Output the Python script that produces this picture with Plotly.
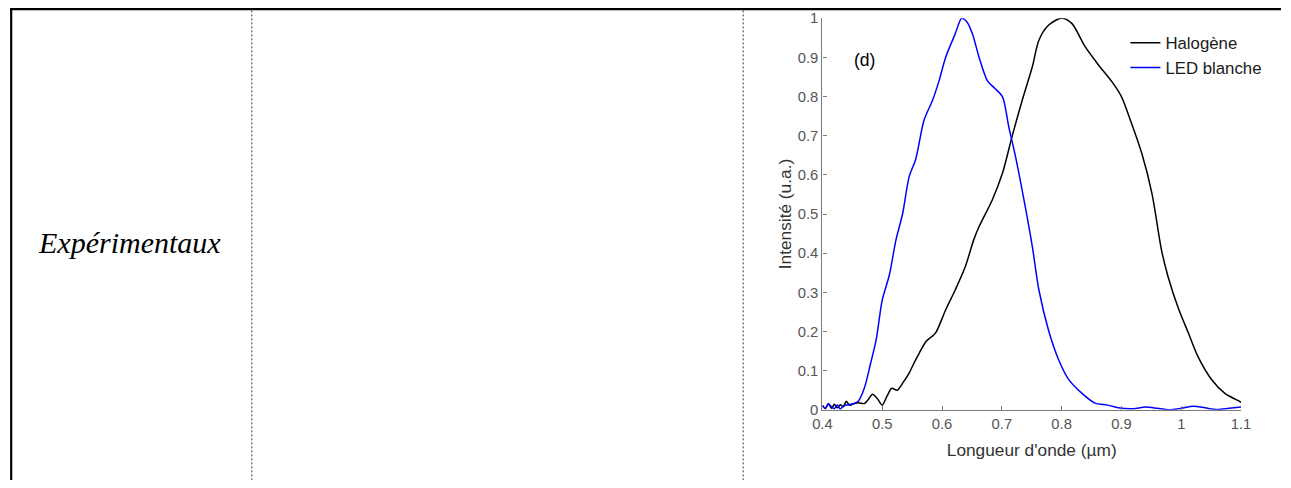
import plotly.graph_objects as go

# Halogen lamp spectrum (normalised intensity vs wavelength in µm)
halogen_wl = [0.400, 0.405, 0.410, 0.415, 0.420, 0.425, 0.430, 0.435, 0.440, 0.445,
              0.450, 0.460, 0.470, 0.476, 0.484, 0.492, 0.500, 0.508, 0.516, 0.525,
              0.535, 0.545, 0.555, 0.562, 0.573, 0.589, 0.606, 0.622, 0.639, 0.653,
              0.662, 0.684, 0.701, 0.717, 0.734, 0.751, 0.762, 0.778, 0.800, 0.817,
              0.839, 0.862, 0.884, 0.900, 0.917, 0.934, 0.951, 0.967, 0.978, 0.995,
              1.012, 1.028, 1.051, 1.073, 1.098, 1.100]
halogen_int = [0.012, 0.003, 0.016, 0.004, 0.014, 0.005, 0.013, 0.008, 0.022, 0.012,
               0.014, 0.018, 0.016, 0.025, 0.040, 0.028, 0.012, 0.035, 0.055, 0.050,
               0.070, 0.094, 0.125, 0.145, 0.174, 0.196, 0.255, 0.306, 0.366, 0.434,
               0.468, 0.536, 0.604, 0.697, 0.790, 0.876, 0.944, 0.982, 1.000, 0.987,
               0.928, 0.880, 0.838, 0.800, 0.731, 0.655, 0.553, 0.408, 0.340, 0.260,
               0.196, 0.136, 0.077, 0.042, 0.021, 0.019]

# White LED spectrum
led_wl = [0.400, 0.405, 0.410, 0.415, 0.420, 0.425, 0.430, 0.435, 0.440, 0.450,
          0.460, 0.470, 0.480, 0.490, 0.500, 0.512, 0.523, 0.534, 0.545, 0.556,
          0.570, 0.584, 0.595, 0.606, 0.622, 0.633, 0.642, 0.651, 0.662, 0.676,
          0.689, 0.701, 0.712, 0.723, 0.739, 0.751, 0.762, 0.778, 0.795, 0.812,
          0.834, 0.856, 0.877, 0.900, 0.920, 0.940, 0.960, 0.980, 1.000, 1.020,
          1.040, 1.060, 1.080, 1.100]
led_int = [0.010, 0.004, 0.015, 0.008, 0.003, 0.012, 0.002, 0.010, 0.012, 0.015,
           0.022, 0.055, 0.115, 0.180, 0.280, 0.345, 0.434, 0.500, 0.595, 0.640,
           0.740, 0.790, 0.840, 0.900, 0.960, 1.000, 0.990, 0.960, 0.900, 0.840,
           0.820, 0.800, 0.720, 0.646, 0.520, 0.417, 0.306, 0.204, 0.128, 0.077,
           0.042, 0.017, 0.012, 0.004, 0.003, 0.007, 0.004, 0.000, 0.004, 0.009,
           0.005, 0.001, 0.004, 0.007]

x_ticks = [0.4, 0.5, 0.6, 0.7, 0.8, 0.9, 1.0, 1.1]
x_tick_labels = ["0.4", "0.5", "0.6", "0.7", "0.8", "0.9", "1", "1.1"]
y_ticks = [0.0, 0.1, 0.2, 0.3, 0.4, 0.5, 0.6, 0.7, 0.8, 0.9, 1.0]
y_tick_labels = ["0", "0.1", "0.2", "0.3", "0.4", "0.5", "0.6", "0.7", "0.8", "0.9", "1"]

W, H = 1291, 488
BODY = 8                       # default html body margin around the figure
SX = (W + 2 * BODY) / W        # page width relative to the visible width
SY = (H + 2 * BODY) / H
AX = "#7a7a7a"
SANS = "Liberation Sans, Arial, sans-serif"


def px(v):
    """visible x pixel -> paper fraction of the figure"""
    return (v * SX - BODY) / W


def py(v):
    """visible y pixel (from top) -> paper fraction of the figure"""
    return 1 - (v * SY - BODY) / H


fig = go.Figure()
fig.add_trace(go.Scatter(x=halogen_wl, y=halogen_int, mode="lines", name="Halogène",
                         line=dict(color="#000000", width=1.5, shape="spline", smoothing=0.8)))
fig.add_trace(go.Scatter(x=led_wl, y=led_int, mode="lines", name="LED blanche",
                         line=dict(color="#0000ff", width=1.5, shape="spline", smoothing=0.8)))

# table frame: thick outer edges, dotted cell separators
shapes = [
    dict(type="line", xref="paper", yref="paper", x0=0, x1=1.0, y0=1 - 1.2 / H, y1=1 - 1.2 / H,
         line=dict(color="black", width=2.2)),
    dict(type="line", xref="paper", yref="paper", x0=1.2 / W, x1=1.2 / W, y0=1, y1=0,
         line=dict(color="black", width=2.2)),
    dict(type="line", xref="paper", yref="paper", x0=px(250.5), x1=px(250.5), y0=1 - 2.5 / H, y1=0,
         line=dict(color="#333333", width=1, dash="2px,2px")),
    dict(type="line", xref="paper", yref="paper", x0=px(743.5), x1=px(743.5), y0=1 - 2.5 / H, y1=0,
         line=dict(color="#333333", width=1, dash="2px,2px")),
]

annotations = [
    dict(text="<i>Expérimentaux</i>", xref="paper", yref="paper", x=px(128), y=py(242),
         xanchor="center", yanchor="middle", showarrow=False,
         font=dict(family="Liberation Serif, Times New Roman, serif", size=30, color="black")),
    dict(text="(d)", xref="paper", yref="paper", x=px(865), y=py(60),
         xanchor="center", yanchor="middle", showarrow=False,
         font=dict(family=SANS, size=17.5, color="black")),
]

fig.update_layout(
    width=W, height=H,
    autosize=False,
    margin=dict(l=0, r=0, t=0, b=0),
    paper_bgcolor="white", plot_bgcolor="white",
    shapes=shapes, annotations=annotations,
    showlegend=True,
    legend=dict(x=px(1127), y=py(25), xanchor="left", yanchor="top",
                bgcolor="rgba(0,0,0,0)", font=dict(family=SANS, size=16.8, color="#1a1a1a"),
                tracegroupgap=0),
    xaxis=dict(domain=[px(823), px(1243)], range=[0.4, 1.1],
               tickvals=x_ticks, ticktext=x_tick_labels,
               showline=True, linecolor=AX, linewidth=1.3, mirror=False,
               ticks="inside", ticklen=4, tickcolor=AX, tickwidth=1.3,
               showgrid=False, zeroline=False,
               tickfont=dict(family=SANS, size=14.8, color="#555555"),
               title=dict(text="Longueur d'onde (µm)", standoff=13,
                          font=dict(family=SANS, size=17.3, color="#333333"))),
    yaxis=dict(domain=[py(410), py(18)], range=[0, 1],
               tickvals=y_ticks, ticktext=y_tick_labels,
               showline=True, linecolor=AX, linewidth=1.3, mirror=False,
               ticks="inside", ticklen=4, tickcolor=AX, tickwidth=1.3,
               showgrid=False, zeroline=False,
               tickfont=dict(family=SANS, size=14.8, color="#555555"),
               title=dict(text="Intensité (u.a.)", standoff=1,
                          font=dict(family=SANS, size=17.3, color="#333333"))),
)

fig.write_html("out.html", config={"responsive": False})
